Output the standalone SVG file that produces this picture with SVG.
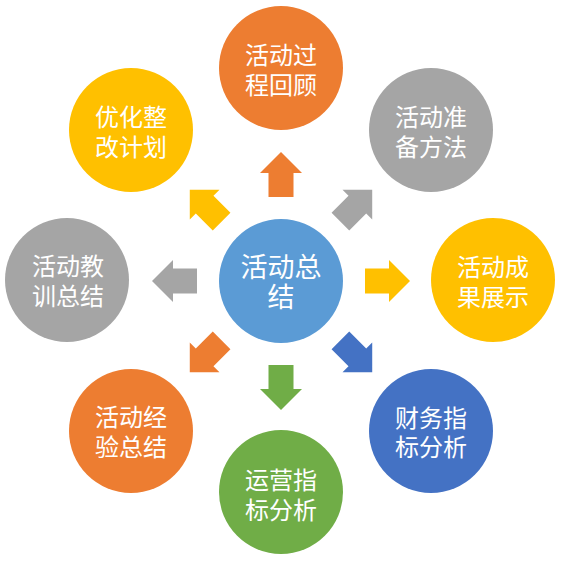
<svg xmlns="http://www.w3.org/2000/svg" width="561" height="570" viewBox="0 0 561 570">
<style>
  .t { font-family: "Noto Sans CJK SC", "Noto Sans", sans-serif; fill: #ffffff; text-anchor: middle; dominant-baseline: central; font-size: 24px; }
  .tc { font-size: 27px; }
  .orange { fill: #ED7D31; }
  .gray { fill: #A5A5A5; }
  .yellow { fill: #FFC000; }
  .blue { fill: #4472C4; }
  .green { fill: #70AD47; }
  .lblue { fill: #5B9BD5; }
</style>
<defs>
  <path id="arr" d="M0,-129 L21,-108 L12.5,-108 L12.5,-84 L-12.5,-84 L-12.5,-108 L-21,-108 Z"/>
</defs>
<rect width="561" height="570" fill="#ffffff"/>
<g id="connectors">
  <use href="#arr" class="orange" transform="translate(281,281) rotate(0)"/>
  <use href="#arr" class="gray" transform="translate(281,281) rotate(45)"/>
  <use href="#arr" class="yellow" transform="translate(281,281) rotate(90)"/>
  <use href="#arr" class="blue" transform="translate(281,281) rotate(135)"/>
  <use href="#arr" class="green" transform="translate(281,281) rotate(180)"/>
  <use href="#arr" class="orange" transform="translate(281,281) rotate(225)"/>
  <use href="#arr" class="gray" transform="translate(281,281) rotate(270)"/>
  <use href="#arr" class="yellow" transform="translate(281,281) rotate(315)"/>
</g>
<g id="center">
  <circle cx="281" cy="281" r="62" class="lblue"/>
  <text class="t tc"><tspan x="281" y="265">活动总</tspan><tspan x="281" y="295">结</tspan></text>
</g>
<g id="top">
  <circle cx="281" cy="68" r="62" class="orange"/>
  <text class="t"><tspan x="281" y="53">活动过</tspan><tspan x="281" y="83">程回顾</tspan></text>
</g>
<g id="top-right">
  <circle cx="431" cy="130" r="62" class="gray"/>
  <text class="t"><tspan x="431" y="115">活动准</tspan><tspan x="431" y="145">备方法</tspan></text>
</g>
<g id="right">
  <circle cx="493" cy="280" r="62" class="yellow"/>
  <text class="t"><tspan x="493" y="265">活动成</tspan><tspan x="493" y="295">果展示</tspan></text>
</g>
<g id="bottom-right">
  <circle cx="431" cy="431" r="62" class="blue"/>
  <text class="t"><tspan x="431" y="416">财务指</tspan><tspan x="431" y="445">标分析</tspan></text>
</g>
<g id="bottom">
  <circle cx="281" cy="492" r="62" class="green"/>
  <text class="t"><tspan x="281" y="478">运营指</tspan><tspan x="281" y="508">标分析</tspan></text>
</g>
<g id="bottom-left">
  <circle cx="131" cy="431" r="62" class="orange"/>
  <text class="t"><tspan x="131" y="415">活动经</tspan><tspan x="131" y="445">验总结</tspan></text>
</g>
<g id="left">
  <circle cx="67" cy="280" r="62" class="gray"/>
  <text class="t"><tspan x="68" y="264">活动教</tspan><tspan x="68" y="294">训总结</tspan></text>
</g>
<g id="top-left">
  <circle cx="131" cy="130" r="62" class="yellow"/>
  <text class="t"><tspan x="131" y="115">优化整</tspan><tspan x="131" y="145">改计划</tspan></text>
</g>
</svg>
